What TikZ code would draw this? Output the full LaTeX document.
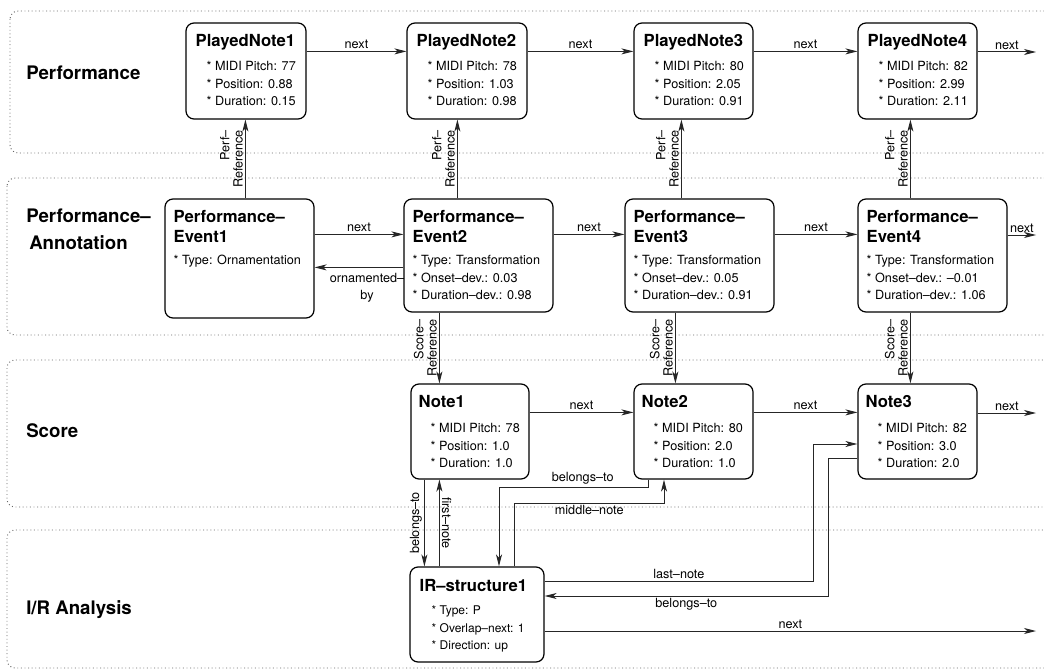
\documentclass[tikz,border=0pt]{standalone}
\usepackage{fontspec}
\setmainfont{TeX Gyre Heros}
\usetikzlibrary{arrows.meta,calc,fit}
% a rounded box spanning two corner points
\newcommand\boxat[5]{\path (#2,#3) coordinate (#1-a) (#4,#5) coordinate (#1-b);
  \node[box, fit=(#1-a)(#1-b)] (#1) {};}
% three attribute lines inside a box
\newcommand\attrlines[6]{%
  \node[att] (#1-l1) at ($(#1.north west)+(#2,#3)$) {#4};
  \node[att] (#1-l2) at ($(#1.north west)+(#2,#3+17.7)$) {#5};
  \node[att] (#1-l3) at ($(#1.north west)+(#2,#3+35.4)$) {#6};}
\begin{document}
\begin{tikzpicture}[x=0.75pt,y=-0.75pt,
  panel/.style={draw=black!60, dotted, line width=0.7pt, rounded corners=6pt},
  box/.style={draw=black, line width=0.9pt, rounded corners=6pt, inner sep=0pt},
  ttl/.style={anchor=base west, inner sep=0pt, font=\fontsize{12.5}{14}\selectfont\bfseries},
  att/.style={anchor=base west, inner sep=0pt, font=\fontsize{9.5}{11}\selectfont},
  sect/.style={anchor=base west, inner sep=0pt, font=\fontsize{14}{17}\selectfont\bfseries},
  arr/.style={draw=black!85, line width=0.75pt, -{Stealth[length=9pt,width=4.5pt,inset=2.5pt]}},
  lbl/.style={font=\fontsize{9.5}{11}\selectfont, inner sep=1.5pt},
  vlbl/.style={midway, anchor=south, rotate=90, align=right, inner sep=1.5pt, font=\fontsize{9.5}{10}\selectfont},
  vlbr/.style={midway, anchor=south, rotate=-90, inner sep=1.5pt, font=\fontsize{9.5}{10}\selectfont},
]
\useasboundingbox (0,0) rectangle (1044,670);

% layer panels
\draw[panel] (10,11) rectangle (1064,153);
\draw[panel] (7,178) rectangle (1064,335);
\draw[panel] (7,360) rectangle (1064,507);
\draw[panel] (7,530) rectangle (1064,668);

\node[sect] (sPerf) at (26,80) {Performance};
\node[sect] (sAnn1) at (26,222) {Performance–};
\node[sect] (sAnn2) at (29,249) {Annotation};
\node[sect] (sScore) at (26,437) {Score};
\node[sect] (sIR) at (26,614) {I/R Analysis};

% performance layer
\boxat{pn1}{186}{23}{306}{119}
\boxat{pn2}{407}{23}{527}{119}
\boxat{pn3}{634}{23}{753}{119}
\boxat{pn4}{858}{23}{977}{119}
\node[ttl] (pn1-t) at ($(pn1.north west)+(10,24)$) {PlayedNote1};
\node[ttl] (pn2-t) at ($(pn2.north west)+(10,24)$) {PlayedNote2};
\node[ttl] (pn3-t) at ($(pn3.north west)+(10,24)$) {PlayedNote3};
\node[ttl] (pn4-t) at ($(pn4.north west)+(10,24)$) {PlayedNote4};
\attrlines{pn1}{21}{48}{* MIDI Pitch: 77}{* Position: 0.88}{* Duration: 0.15}
\attrlines{pn2}{21}{48}{* MIDI Pitch: 78}{* Position: 1.03}{* Duration: 0.98}
\attrlines{pn3}{21}{48}{* MIDI Pitch: 80}{* Position: 2.05}{* Duration: 0.91}
\attrlines{pn4}{21}{48}{* MIDI Pitch: 82}{* Position: 2.99}{* Duration: 2.11}

% annotation layer
\boxat{pe1}{165}{199}{314}{318}
\boxat{pe2}{404}{199}{553}{312}
\boxat{pe3}{625}{199}{774}{312}
\boxat{pe4}{858}{199}{1007}{312}
\foreach \i in {1,...,4}{
  \node[ttl] (pe\i-t1) at ($(pe\i.north west)+(9,24)$) {Performance–};
  \node[ttl] (pe\i-t2) at ($(pe\i.north west)+(9,44)$) {Event\i};
}
\node[att] (pe1-l1) at ($(pe1.north west)+(9,66)$) {* Type: Ornamentation};
\attrlines{pe2}{9}{66}{* Type: Transformation}{* Onset–dev.: 0.03}{* Duration–dev.: 0.98}
\attrlines{pe3}{9}{66}{* Type: Transformation}{* Onset–dev.: 0.05}{* Duration–dev.: 0.91}
\attrlines{pe4}{9}{66}{* Type: Transformation}{* Onset–dev.: –0.01}{* Duration–dev.: 1.06}

% score layer
\boxat{n1}{411}{384}{529}{479}
\boxat{n2}{634}{384}{753}{479}
\boxat{n3}{858}{384}{977}{479}
\node[ttl] (n1-t) at ($(n1.north west)+(8,24)$) {Note1};
\node[ttl] (n2-t) at ($(n2.north west)+(8,24)$) {Note2};
\node[ttl] (n3-t) at ($(n3.north west)+(8,24)$) {Note3};
\attrlines{n1}{20}{49}{* MIDI Pitch: 78}{* Position: 1.0}{* Duration: 1.0}
\attrlines{n2}{20}{49}{* MIDI Pitch: 80}{* Position: 2.0}{* Duration: 1.0}
\attrlines{n3}{20}{49}{* MIDI Pitch: 82}{* Position: 3.0}{* Duration: 2.0}

% analysis layer
\boxat{ir}{410}{567}{544}{662}
\node[ttl] (ir-t) at ($(ir.north west)+(10,25)$) {IR–structure1};
\begin{scope}[att/.append style={font=\fontsize{9}{11}\selectfont}]
\attrlines{ir}{22}{48}{* Type: P}{* Overlap–next: 1}{* Direction: up}
\end{scope}

% free ends of the open "next" links
\coordinate (pnEnd) at (1036,52);
\coordinate (peEnd) at (1036,235);
\coordinate (nEnd) at (1036,413);
\coordinate (irEnd) at (1036,631);

% next links, performance
\draw[arr] ($(pn1.north east)+(0,29)$) coordinate (p1) -- node[lbl,above]{next} (p1 -| pn2.west);
\draw[arr] ($(pn2.north east)+(0,29)$) coordinate (p2) -- node[lbl,above]{next} (p2 -| pn3.west);
\draw[arr] ($(pn3.north east)+(0,29)$) coordinate (p3) -- node[lbl,above]{next} (p3 -| pn4.west);
\draw[arr] (pnEnd -| pn4.east) -- node[lbl,above]{next} (pnEnd);

% perf-reference links
\draw[arr] ($(pe1.north west)+(81,0)$) coordinate (r1) -- node[vlbl]{Perf–\\Reference} (r1 |- pn1.south);
\draw[arr] ($(pe2.north west)+(54,0)$) coordinate (r2) -- node[vlbl]{Perf–\\Reference} (r2 |- pn2.south);
\draw[arr] ($(pe3.north west)+(57,0)$) coordinate (r3) -- node[vlbl]{Perf–\\Reference} (r3 |- pn3.south);
\draw[arr] ($(pe4.north west)+(53,0)$) coordinate (r4) -- node[vlbl]{Perf–\\Reference} (r4 |- pn4.south);

% next links, annotation
\draw[arr] ($(pe1.north east)+(0,36)$) coordinate (e1) -- node[lbl,above]{next} (e1 -| pe2.west);
\draw[arr] ($(pe2.north east)+(0,36)$) coordinate (e2) -- node[lbl,above]{next} (e2 -| pe3.west);
\draw[arr] ($(pe3.north east)+(0,36)$) coordinate (e3) -- node[lbl,above]{next} (e3 -| pe4.west);
\draw[arr] (peEnd -| pe4.east) -- node[lbl,above]{next} (peEnd);
\draw[arr] ($(pe2.north west)+(0,69)$) coordinate (o1) -- node[lbl,below,inner sep=4pt,xshift=6pt,align=center,font=\fontsize{9.5}{13}\selectfont]{ornamented–\\by} (o1 -| pe1.east);

% score-reference links
\draw[arr] ($(pe2.south west)+(36,0)$) coordinate (q1) -- node[vlbl]{Score–\\Reference} (q1 |- n1.north);
\draw[arr] ($(pe3.south west)+(51,0)$) coordinate (q2) -- node[vlbl]{Score–\\Reference} (q2 |- n2.north);
\draw[arr] ($(pe4.south west)+(53,0)$) coordinate (q3) -- node[vlbl]{Score–\\Reference} (q3 |- n3.north);

% next links, score
\draw[arr] ($(n1.north east)+(0,29)$) coordinate (m1) -- node[lbl,above]{next} (m1 -| n2.west);
\draw[arr] ($(n2.north east)+(0,29)$) coordinate (m2) -- node[lbl,above]{next} (m2 -| n3.west);
\draw[arr] (nEnd -| n3.east) -- node[lbl,above]{next} (nEnd);

% links between the analysis and the score
\coordinate (k1) at (499,487);
\coordinate (k2) at (664,503);
\coordinate (k3) at (813,444);
\coordinate (k4) at (828,596);
\draw[arr] ($(n1.south west)+(14,0)$) coordinate (b1) -- node[vlbl]{belongs–to} (b1 |- ir.north);
\draw[arr] ($(ir.north west)+(30,0)$) coordinate (f1) -- node[vlbr]{first–note} (f1 |- n1.south);
\draw[arr] ($(n2.south west)+(15,0)$) |- node[lbl,above,pos=0.72]{belongs–to} (k1) -- (k1 |- ir.north);
\draw[arr] ($(ir.north west)+(105,0)$) |- node[lbl,below,pos=0.75]{middle–note} (k2) -- (k2 |- n2.south);
\draw[arr] ($(ir.north east)+(0,15)$) coordinate (l1) -- node[lbl,above]{last–note} (l1 -| k3) -- (k3) -- (k3 -| n3.west);
\draw[arr] ($(n3.north west)+(0,75)$) coordinate (g1) -- (g1 -| k4) -- (k4) -- node[lbl,below]{belongs–to} (k4 -| ir.east);
\draw[arr] (irEnd -| ir.east) -- node[lbl,above]{next} (irEnd);
\end{tikzpicture}
\end{document}
